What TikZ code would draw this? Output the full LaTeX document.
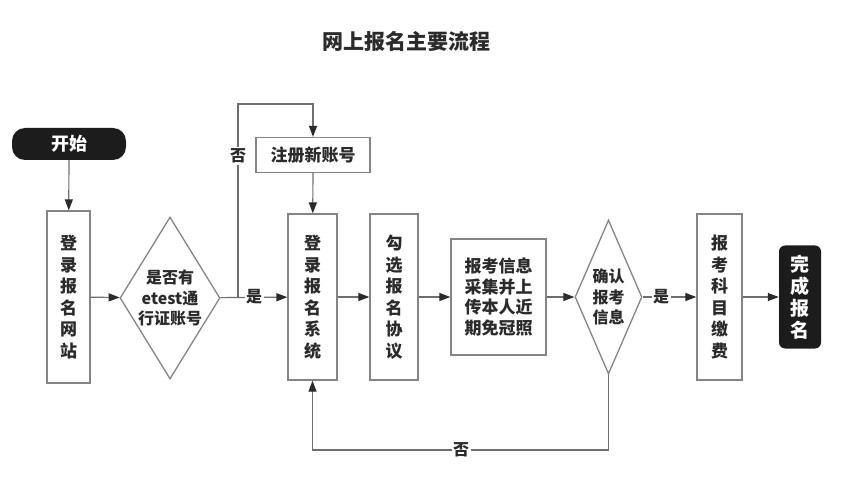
\documentclass[tikz,border=0pt]{standalone}
\usepackage{fontspec}
\setmainfont{Noto Sans CJK SC}
\usepackage{tikz}
\usetikzlibrary{arrows.meta}
\usetikzlibrary{shapes.geometric}
\definecolor{linegray}{HTML}{6E6E6E}
\definecolor{boxgray}{HTML}{858585}
\definecolor{darktext}{HTML}{2B2B2B}
\definecolor{nearblack}{HTML}{1C1C1C}
\tikzset{
  flowbox/.style={draw=boxgray, line width=1.3pt, fill=white, inner sep=0pt, align=center, text=darktext, font=\bfseries\fontsize{17}{21.5}\selectfont},
  termbox/.style={fill=nearblack, inner sep=0pt, align=center, text=white},
  decide/.style={diamond, draw=boxgray, line width=1.3pt, fill=white, inner sep=0pt},
  decidetext/.style={align=center, inner sep=0pt, text=darktext, font=\bfseries\fontsize{16}{20.5}\selectfont},
  flowline/.style={draw=linegray, line width=1.2pt, -{Triangle[length=11pt,width=8pt,color=darktext]}},
  plainline/.style={draw=linegray, line width=1.2pt},
  lbl/.style={fill=white, inner sep=1.5pt, text=darktext, font=\bfseries\fontsize{16}{18}\selectfont},
}

\begin{document}
\begin{tikzpicture}[x=1pt, y=-1pt]
\useasboundingbox (0,0) rectangle (854,478);
% title
\node[text=darktext, font=\bfseries\fontsize{21}{24}\selectfont] (title) at (406,42) {网上报名主要流程};
% draws steps
\node[termbox, rounded corners=13pt, minimum width=114pt, minimum height=32pt, font=\bfseries\fontsize{18}{22}\selectfont] (start) at (69,144) {开始};
\node[flowbox, minimum width=43pt, minimum height=172pt] (b1) at (68.5,297) {登\\录\\报\\名\\网\\站};
\node[decide, minimum width=100pt, minimum height=162pt] (d1) at (170,298) {};
\node[decidetext] (d1text) at (170,298) {是否有\\etest通\\行证账号};
\node[flowbox, minimum width=114pt, minimum height=35pt] (reg) at (313,155) {注册新账号};
\node[flowbox, minimum width=49pt, minimum height=166pt] (b2) at (312.5,297) {登\\录\\报\\名\\系\\统};
\node[flowbox, minimum width=48pt, minimum height=166pt] (b3) at (394,297) {勾\\选\\报\\名\\协\\议};
\node[flowbox, minimum width=95pt, minimum height=116pt, font=\bfseries\fontsize{17}{20.5}\selectfont] (b4) at (498.5,297) {报考信息\\采集并上\\传本人近\\期免冠照};
\node[decide, minimum width=67pt, minimum height=154pt] (d2) at (608.5,297) {};
\node[decidetext] (d2text) at (608.5,297) {确认\\报考\\信息};
\node[flowbox, minimum width=45pt, minimum height=166pt] (b5) at (719.5,297) {报\\考\\科\\目\\缴\\费};
\node[termbox, rounded corners=6pt, minimum width=42pt, minimum height=103pt, font=\bfseries\fontsize{19}{22}\selectfont] (fin) at (800,297) {完\\成\\报\\名};
% turning points
\coordinate (br) at (238,298);
\coordinate (top) at (238,104);
\coordinate (lp) at (608.5,450);
% draws connectors
\draw[flowline] (start) -- (b1);
\draw[flowline] (b1) -- (d1);
\draw[flowline] (d1) -- (b2);
\draw[flowline] (br) -- (top) -| (reg);
\draw[flowline] (reg) -- (b2);
\draw[flowline] (b2) -- (b3);
\draw[flowline] (b3) -- (b4);
\draw[flowline] (b4) -- (d2);
\draw[flowline] (d2) -- (b5);
\draw[flowline] (b5) -- (fin);
\draw[flowline] (d2) -- (lp) -| (b2);
% labels connectors
\node[lbl] (yes1) at (254,297) {是};
\node[lbl] (no1) at (238,156) {否};
\node[lbl] (yes2) at (661,297) {是};
\node[lbl] (no2) at (461,450) {否};
\end{tikzpicture}
\end{document}
